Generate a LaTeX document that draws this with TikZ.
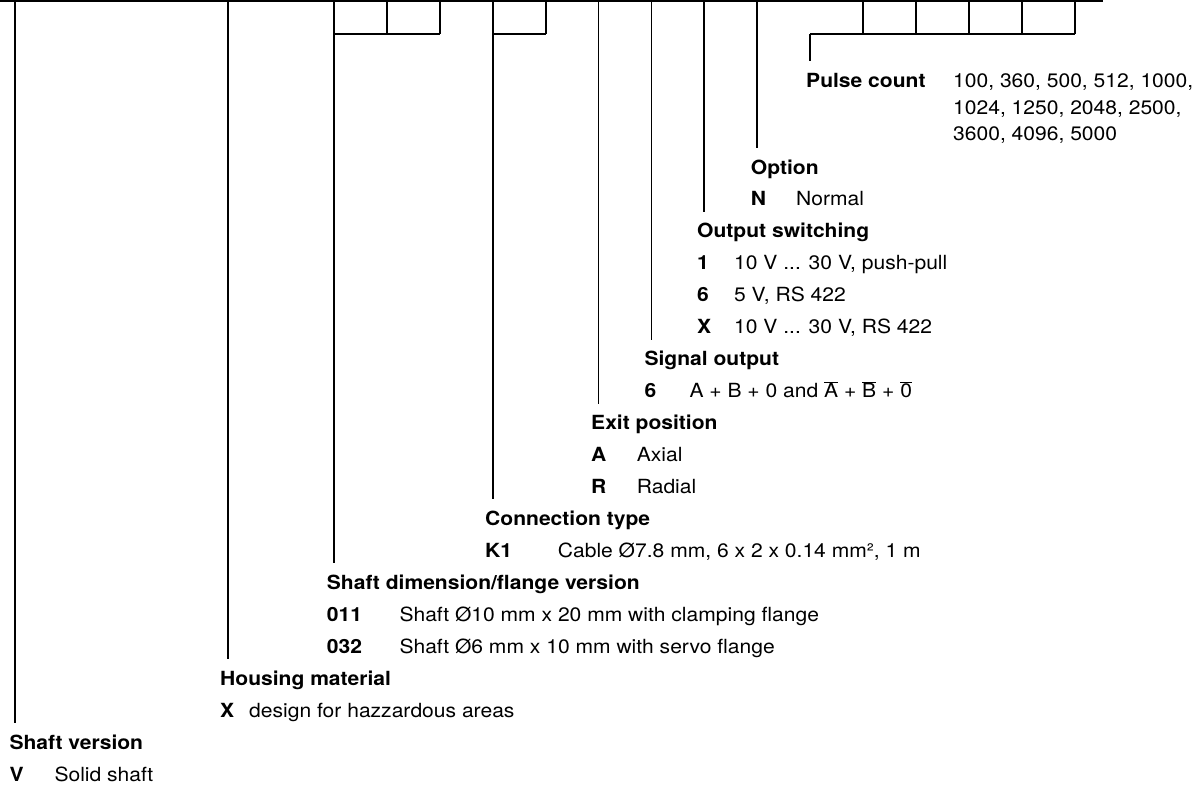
\documentclass[tikz,border=0pt]{standalone}
\usepackage{fontspec}
\setmainfont{TeX Gyre Heros}[FakeStretch=1.08]
\usetikzlibrary{positioning}

\tikzset{
    rule/.style={line width=1.8pt},
    title/.style={font=\fontsize{19.5}{23}\selectfont\bfseries, inner sep=0pt,
        text height=14pt, text depth=4pt, outer ysep=12pt, anchor=base west},
    code/.style={font=\fontsize{19.5}{23}\selectfont\bfseries, inner sep=0pt, anchor=base west},
    desc/.style={font=\fontsize{19.5}{23}\selectfont, inner sep=0pt, anchor=base west}
}
\newcommand{\olbar}[1]{\(\overline{\mbox{#1}}\)}

\begin{document}
\begin{tikzpicture}[x=1pt,y=-1pt]
    \useasboundingbox (0,0) rectangle (1200,787);

    % Type key line with boxes
    \draw[rule] (0,1) -- (1103,1);
    \draw[rule] (334,34) -- (439.8,34);
    \draw[rule] (492.7,34) -- (545.6,34);
    \draw[rule] (810.1,34) -- (1074.6,34);
    \foreach \x in {386.9, 439.8, 545.6, 863, 915.9, 968.8, 1021.7, 1074.6} {
        \draw[rule] (\x,1) -- (\x,34);
    }

    % Top ends of the leader lines
    \coordinate (pver) at (15,1);
    \coordinate (phou) at (228,1);
    \coordinate (pdim) at (334,1);
    \coordinate (pcon) at (492.7,1);
    \coordinate (pexi) at (598.5,1);
    \coordinate (psig) at (651.4,1);
    \coordinate (pout) at (704.3,1);
    \coordinate (popt) at (757.2,1);
    \coordinate (ppul) at (810.1,34);

    % Pulse count
    \node[title] (pul) at (806,87) {Pulse count};
    \node[desc] (pul1) at (953,87) {100, 360, 500, 512, 1000,};
    \node[desc] (pul2) at (953,114) {1024, 1250, 2048, 2500,};
    \node[desc] (pul3) at (953,140) {3600, 4096, 5000};

    % Option
    \node[title] (opt) at (750.7,174) {Option};
    \node[code] (optN) at (750.7,205.95) {N};
    \node[desc] (optNd) at (796,205.95) {Normal};

    % Output switching
    \node[title] (out) at (697,237.9) {Output switching};
    \node[code] (out1) at (697,269.85) {1};
    \node[desc] (out1d) at (734,269.85) {10 V ... 30 V, push-pull};
    \node[code] (out6) at (697,301.8) {6};
    \node[desc] (out6d) at (734,301.8) {5 V, RS 422};
    \node[code] (outX) at (697,333.75) {X};
    \node[desc] (outXd) at (734,333.75) {10 V ... 30 V, RS 422};

    % Signal output
    \node[title] (sig) at (644.3,365.7) {Signal output};
    \node[code] (sig6) at (644.3,397.65) {6};
    \node[desc] (sig6d) at (689.3,397.65) {A + B + 0 and \olbar{A} + \olbar{B} + \olbar{0}};

    % Exit position
    \node[title] (exi) at (591,429.6) {Exit position};
    \node[code] (exiA) at (591,461.55) {A};
    \node[desc] (exiAd) at (636.7,461.55) {Axial};
    \node[code] (exiR) at (591,493.5) {R};
    \node[desc] (exiRd) at (636.7,493.5) {Radial};

    % Connection type
    \node[title] (con) at (485,525.45) {Connection type};
    \node[code] (conK) at (485,557.4) {K1};
    \node[desc] (conKd) at (557.7,557.4) {Cable Ø7.8 mm, 6 x 2 x 0.14 mm², 1 m};

    % Shaft dimension/flange version
    \node[title] (dim) at (326.7,589.35) {Shaft dimension/flange version};
    \node[code] (dim11) at (326.7,621.3) {011};
    \node[desc] (dim11d) at (399.3,621.3) {Shaft Ø10 mm x 20 mm with clamping flange};
    \node[code] (dim32) at (326.7,653.25) {032};
    \node[desc] (dim32d) at (399.3,653.25) {Shaft Ø6 mm x 10 mm with servo flange};

    % Housing material
    \node[title] (hou) at (220,685.2) {Housing material};
    \node[code] (houX) at (220,717.15) {X};
    \node[desc] (houXd) at (249,717.15) {design for hazzardous areas};

    % Shaft version
    \node[title] (ver) at (9.3,749.1) {Shaft version};
    \node[code] (verV) at (9.3,781.05) {V};
    \node[desc] (verVd) at (54.3,781.05) {Solid shaft};

    % Leader lines
    \foreach \p/\t in {pver/ver, phou/hou, pdim/dim, pcon/con, pexi/exi,
                       psig/sig, pout/out, popt/opt, ppul/pul} {
        \draw[rule] (\p) -- (\p |- \t.north);
    }
\end{tikzpicture}
\end{document}
